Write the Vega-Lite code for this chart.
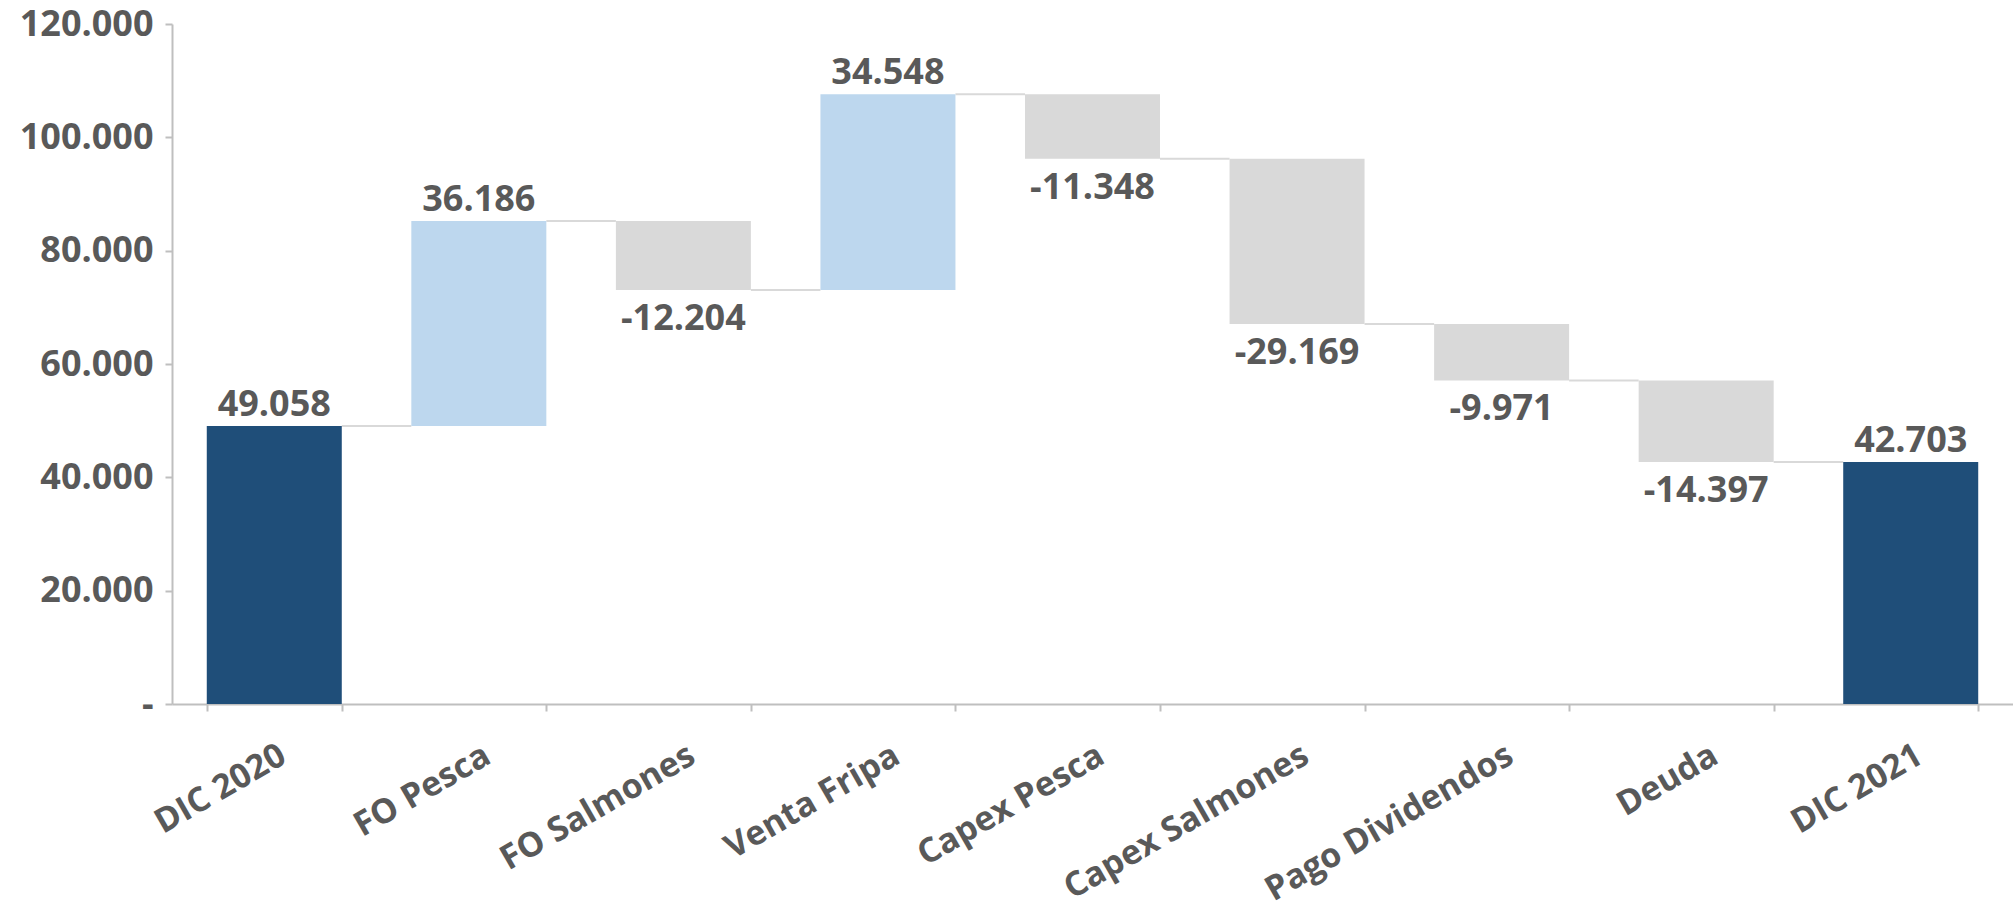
{
  "$schema": "https://vega.github.io/schema/vega-lite/v6.json",
  "autosize": {"type": "none"},
  "width": 1841,
  "height": 680,
  "padding": {"left": 172, "top": 24, "right": 0, "bottom": 203},
  "background": "white",
  "config": {
    "view": {"stroke": null},
    "font": "Open Sans",
    "axis": {"labelFont": "Open Sans", "labelFontWeight": "bold", "labelColor": "#595959", "labelFontSize": 36, "labelLimit": 0, "domainColor": "#BFBFBF", "tickColor": "#BFBFBF", "domainWidth": 2, "tickWidth": 2, "grid": false, "title": null}
  },
  "data": {
    "values": [
      {"cat": "DIC 2020", "start": 0, "end": 49058, "kind": "total", "label": "49.058", "next": "FO Pesca"},
      {"cat": "FO Pesca", "start": 49058, "end": 85244, "kind": "up", "label": "36.186", "next": "FO Salmones"},
      {"cat": "FO Salmones", "start": 85244, "end": 73040, "kind": "down", "label": "-12.204", "next": "Venta Fripa"},
      {"cat": "Venta Fripa", "start": 73040, "end": 107588, "kind": "up", "label": "34.548", "next": "Capex Pesca"},
      {"cat": "Capex Pesca", "start": 107588, "end": 96240, "kind": "down", "label": "-11.348", "next": "Capex Salmones"},
      {"cat": "Capex Salmones", "start": 96240, "end": 67071, "kind": "down", "label": "-29.169", "next": "Pago Dividendos"},
      {"cat": "Pago Dividendos", "start": 67071, "end": 57100, "kind": "down", "label": "-9.971", "next": "Deuda"},
      {"cat": "Deuda", "start": 57100, "end": 42703, "kind": "down", "label": "-14.397", "next": "DIC 2021"},
      {"cat": "DIC 2021", "start": 0, "end": 42703, "kind": "total", "label": "42.703", "next": null}
    ]
  },
  "encoding": {
    "x": {
      "field": "cat", "type": "nominal", "sort": null,
      "scale": {"paddingInner": 0.34, "paddingOuter": 0.17},
      "axis": {"labelAngle": -30, "labelAlign": "right", "labelBaseline": "top", "labelPadding": 27, "labelFontSize": 34, "tickBand": "extent", "tickSize": 7}
    }
  },
  "layer": [
    {
      "transform": [{"filter": "datum.next != null"}],
      "mark": {"type": "rule", "color": "#D9D9D9", "strokeWidth": 2},
      "encoding": {
        "x": {"field": "cat", "type": "nominal", "sort": null, "bandPosition": 1},
        "x2": {"field": "next", "bandPosition": 0},
        "y": {"field": "end", "type": "quantitative"}
      }
    },
    {
      "mark": {"type": "bar"},
      "encoding": {
        "y": {
          "field": "start", "type": "quantitative",
          "scale": {"domain": [0, 120000], "nice": false},
          "axis": {"values": [0, 20000, 40000, 60000, 80000, 100000, 120000], "tickSize": 7, "labelPadding": 12, "labelExpr": "datum.value == 0 ? '-' : replace(format(datum.value, ','), ',', '.')"}
        },
        "y2": {"field": "end"},
        "color": {
          "field": "kind", "type": "nominal", "legend": null,
          "scale": {"domain": ["total", "up", "down"], "range": ["#1F4E79", "#BDD7EE", "#D9D9D9"]}
        }
      }
    },
    {
      "transform": [{"filter": "datum.kind != 'down'"}],
      "mark": {"type": "text", "baseline": "alphabetic", "dy": -10, "fontSize": 36, "fontWeight": "bold", "color": "#595959"},
      "encoding": {
        "y": {"field": "end", "type": "quantitative"},
        "text": {"field": "label"}
      }
    },
    {
      "transform": [{"filter": "datum.kind == 'down'"}],
      "mark": {"type": "text", "baseline": "top", "dy": 12, "fontSize": 36, "fontWeight": "bold", "color": "#595959"},
      "encoding": {
        "y": {"field": "end", "type": "quantitative"},
        "text": {"field": "label"}
      }
    }
  ]
}
